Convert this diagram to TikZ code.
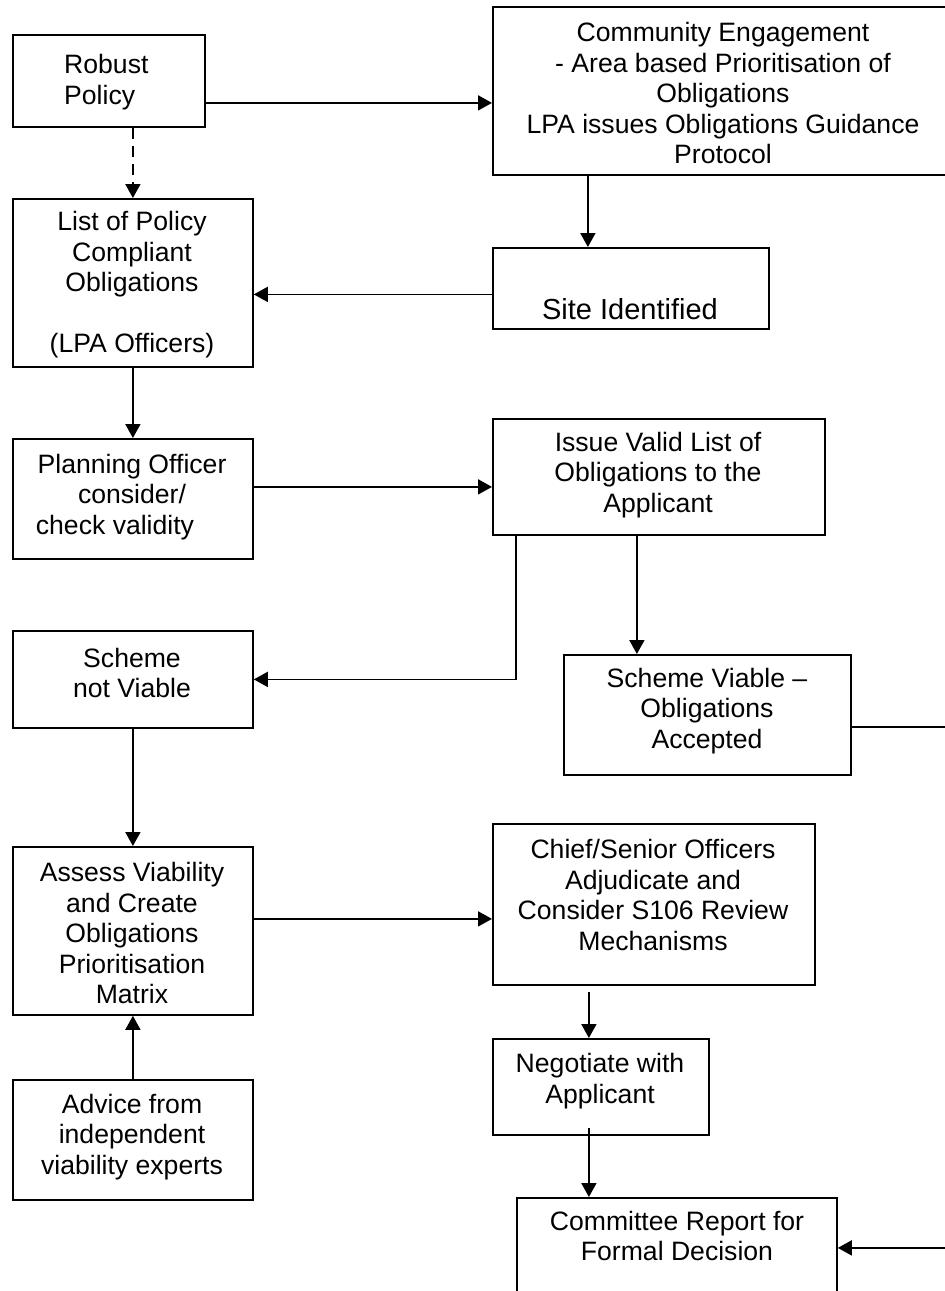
\documentclass[tikz,border=0pt]{standalone}
\usepackage{fontspec}
\setmainfont{Liberation Sans}
\usetikzlibrary{arrows.meta,calc}

\tikzset{
	box/.style={draw, line width=1.8pt, anchor=north west, inner sep=0pt},
	boxtext/.style={align=center, inner sep=0pt},
	arr/.style={line width=1.8pt, -{Triangle[length=14pt,width=15pt]}},
}

\begin{document}
\begin{tikzpicture}[x=1pt, y=-1pt, font=\fontsize{26.6}{30.5}\selectfont]
		\useasboundingbox (0,0) rectangle (945,1291);

		\node[box, minimum width=192, minimum height=92] (robust) at (12,34) {};
		\node[boxtext, align=left, anchor=west] (robusttext) at (64,82) {Robust\\Policy};

		\node[box, minimum width=463, minimum height=168] (ce) at (492,6) {};
		\node[boxtext] (cetext) at (723,93) {Community Engagement\\- Area based Prioritisation of\\Obligations\\LPA issues Obligations Guidance\\Protocol};

		\node[box, minimum width=240, minimum height=168] (list) at (12,198) {};
		\node[boxtext] (listtext) at (132,285) {List of Policy\\Compliant\\Obligations\\[30.5pt](LPA Officers)};

		\node[box, minimum width=276, minimum height=81] (site) at (492,247) {};
		\node[boxtext, font=\fontsize{29}{33}\selectfont] (sitetext) at (630,309) {Site Identified};

		\node[box, minimum width=240, minimum height=120] (plan) at (12,438) {};
		\node[boxtext] (plantext) at (132,497) {Planning Officer\\consider/\\check validity\hspace*{34pt}};

		\node[box, minimum width=332, minimum height=116] (issue) at (492,418) {};
		\node[boxtext] (issuetext) at (658,475) {Issue Valid List of\\Obligations to the\\Applicant};

		\node[box, minimum width=240, minimum height=97] (snv) at (12,630) {};
		\node[boxtext] (snvtext) at (132,673) {Scheme\\not Viable};

		\node[box, minimum width=287, minimum height=120] (sv) at (563,654) {};
		\node[boxtext] (svtext) at (707,711) {Scheme Viable --\\Obligations\\Accepted};

		\node[box, minimum width=240, minimum height=168] (assess) at (12,846) {};
		\node[boxtext] (assesstext) at (132,933) {Assess Viability\\and Create\\Obligations\\Prioritisation\\Matrix};

		\node[box, minimum width=322, minimum height=161] (chief) at (492,823) {};
		\node[boxtext] (chieftext) at (653,895) {Chief/Senior Officers\\Adjudicate and\\Consider S106 Review\\Mechanisms};

		\node[box, minimum width=216, minimum height=96] (neg) at (492,1038) {};
		\node[boxtext] (negtext) at (600,1081) {Negotiate with\\Applicant};

		\node[box, minimum width=320, minimum height=100] (committee) at (516,1197) {};
		\node[boxtext] (committeetext) at (677,1236) {Committee Report for\\Formal Decision};

		\node[box, minimum width=240, minimum height=120] (advice) at (12,1079) {};
		\node[boxtext] (advicetext) at (132,1137) {Advice from\\independent\\viability experts};

		\draw[arr] ([yshift=-22pt]robust.east) -- ([yshift=-22pt]robust.east -| ce.west);
		\draw[arr, dashed, dash pattern=on 11pt off 7pt] (list.north |- robust.south) -- (list.north);
		\draw[arr] ([xshift=-43pt]site.north |- ce.south) -- ([xshift=-43pt]site.north);
		\draw[arr] ([yshift=-6pt]site.west) -- ([yshift=-6pt]site.west -| list.east);
		\draw[arr] (list.south) -- (plan.north);
		\draw[arr] ([yshift=12pt]plan.east) -- ([yshift=12pt]plan.east -| issue.west);
		\draw[arr] ([xshift=24pt]issue.south west) |- (snv.east);
		\draw[arr] ([xshift=-22pt]issue.south) -- ([xshift=-22pt]issue.south |- sv.north);
		\draw[arr] ([yshift=-12pt]sv.east) -- ++(100,0) |- (committee.east);
		\draw[arr] (snv.south) -- (assess.north);
		\draw[arr] ([yshift=12pt]assess.east) -- ([yshift=12pt]assess.east -| chief.west);
		\draw[arr] ([xshift=-12pt,yshift=-6pt]neg.north |- chief.south) -- ([xshift=-12pt]neg.north);
		\draw[arr] ([xshift=-12pt,yshift=8pt]neg.south) -- ([xshift=-12pt]neg.south |- committee.north);
		\draw[arr] (advice.north) -- (assess.south);

	\end{tikzpicture}
\end{document}
